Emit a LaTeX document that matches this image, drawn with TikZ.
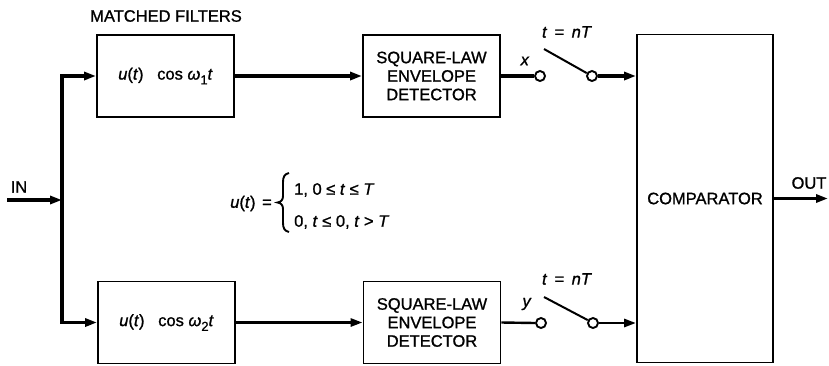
\documentclass[tikz,border=0pt]{standalone}
\usepackage{fontspec}
\setmainfont{Liberation Sans}[UprightFeatures={FakeBold=1.1},ItalicFeatures={FakeBold=1.1}]
\usetikzlibrary{arrows.meta}
\newcommand\subs[1]{\raisebox{-0.55ex}{\fontsize{13}{13}\selectfont #1}}
\begin{document}
\begin{tikzpicture}[x=1pt,y=-1pt,
  box/.style={draw,line width=1.9pt,minimum width=137pt,minimum height=82pt,inner sep=0pt,align=center,font=\fontsize{16.5}{18.5}\selectfont},
  conn/.style={line width=3.2pt},
  arr/.style={line width=3.2pt,-{Triangle[length=12pt,width=8pt]}},
  term/.style={circle,draw,line width=1.9pt,fill=white,minimum size=10pt,inner sep=0pt},
  lbl/.style={font=\fontsize{16.5}{18.5}\selectfont,inner sep=0pt}]
\useasboundingbox (0,0) rectangle (829,365);
% boxes
\node[box] (f1) at (165.5,76) {\textit{u}(\textit{t})\hspace{0.55em} cos \textit{ω}\subs{1}\textit{t}};
\node[box] (f2) at (166.5,322.5) {\textit{u}(\textit{t})\hspace{0.55em} cos \textit{ω}\subs{2}\textit{t}};
\node[box] (s1) at (431.5,76) {SQUARE-LAW\\ENVELOPE\\DETECTOR};
\node[box] (s2) at (432,322.5) {SQUARE-LAW\\ENVELOPE\\DETECTOR};
\node[box,minimum width=136pt,minimum height=328pt] (comp) at (705,198.5) {COMPARATOR};
% labels
\node[lbl] (mf) at (166,16) {MATCHED FILTERS};
\node[lbl] (inl) at (19,187) {IN};
\node[lbl] (outl) at (809,183) {OUT};
\node[lbl] (xl) at (525,61) {\textit{x}};
\node[lbl] (yl) at (527,304) {\textit{y}};
\node[lbl] (t1) at (567,32) {\textit{t}\hspace{0.45em}=\hspace{0.45em}\textit{nT}};
\node[lbl] (t2) at (567,279) {\textit{t}\hspace{0.45em}=\hspace{0.45em}\textit{nT}};
% equation
\node[lbl,anchor=east] (eqa) at (272,203.5) {\textit{u}(\textit{t})\hspace{0.4em}=};
\node[lbl,anchor=west] (eqb) at (294,190) {1, 0 ≤ \textit{t} ≤ \textit{T}};
\node[lbl,anchor=west] (eqc) at (294,222) {0, \textit{t} ≤ 0, \textit{t} > \textit{T}};
\draw[line width=1.9pt] (289,173) .. controls (284.5,174) and (283,177) .. (283,182) -- (283,196) .. controls (283,200) and (281,202) .. (277.5,202.5) .. controls (281,203) and (283,205) .. (283,209) -- (283,223) .. controls (283,228) and (284.5,231) .. (289,232);
% input bus
\coordinate (bt) at (62,76);
\coordinate (bb) at (62,322.5);
\coordinate (bin) at (62,200);
\coordinate (in) at (7,200);
\draw[conn] (bt) -- (bb);
\draw[conn,line cap=rect] (bt) -- ++(1,0);
\draw[conn,line cap=rect] (bb) -- ++(1,0);
\draw[arr] (in) -- (bin);
\draw[arr] (bt) -- (f1.west);
\draw[arr] (bb) -- (f2.west);
\draw[arr] (f1.east) -- (s1.west);
\draw[arr,line width=2.8pt] (f2.east) -- (s2.west);
% switches
\node[term] (a1) at (540,76) {};
\node[term] (b1) at (592,76) {};
\node[term] (a2) at (541,323) {};
\node[term] (b2) at (593,323) {};
\coordinate (l1) at (544,49);
\coordinate (l2) at (544,297);
\draw[conn] (s1.east) -- (a1.west);
\draw[line width=2.4pt] (s2.east) -- (a2.west);
\draw[line width=2pt] (l1) -- (b1.151);
\draw[line width=2pt] (l2) -- (b2.151);
\draw[arr] (b1.east) -- (b1.east -| comp.west);
\draw[arr,line width=2.8pt] (b2.east) -- (b2.east -| comp.west);
% output
\coordinate (out) at (828,198.5);
\draw[arr] (comp.east) -- (out);
\end{tikzpicture}
\end{document}
